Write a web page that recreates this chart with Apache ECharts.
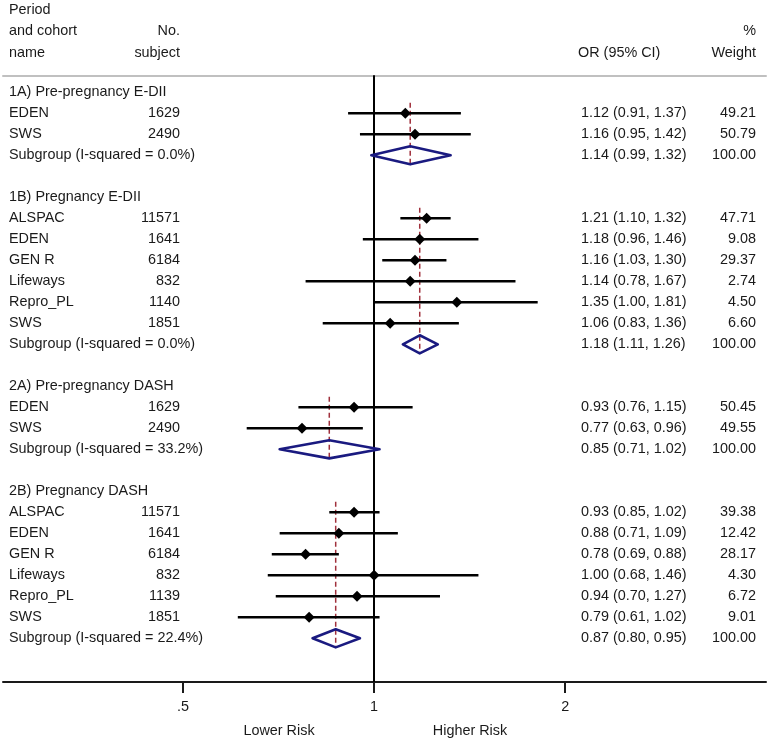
<!DOCTYPE html>
<html><head><meta charset="utf-8">
<script src="https://cdn.jsdelivr.net/npm/echarts@6/dist/echarts.min.js"></script>
<style>html,body{margin:0;padding:0;background:#fff}#c{width:770px;height:742px}</style>
</head><body><div id="c"></div>
<script>
// ---- data ----
const rowLabels = [
  '1A) Pre-pregnancy E-DII', 'EDEN', 'SWS', 'Subgroup (I-squared = 0.0%)', '',
  '1B) Pregnancy E-DII', 'ALSPAC', 'EDEN', 'GEN R', 'Lifeways', 'Repro_PL', 'SWS', 'Subgroup (I-squared = 0.0%)', '',
  '2A) Pre-pregnancy DASH', 'EDEN', 'SWS', 'Subgroup (I-squared = 33.2%)', '',
  '2B) Pregnancy DASH', 'ALSPAC', 'EDEN', 'GEN R', 'Lifeways', 'Repro_PL', 'SWS', 'Subgroup (I-squared = 22.4%)'
];
const rowKind = [
  'head', 'study', 'study', 'sub', 'blank',
  'head', 'study', 'study', 'study', 'study', 'study', 'study', 'sub', 'blank',
  'head', 'study', 'study', 'sub', 'blank',
  'head', 'study', 'study', 'study', 'study', 'study', 'study', 'sub'
];
const rowSubjects = [null, 1629, 2490, null, null,
  null, 11571, 1641, 6184, 832, 1140, 1851, null, null,
  null, 1629, 2490, null, null,
  null, 11571, 1641, 6184, 832, 1139, 1851, null];
const rowOR = [null, 1.12, 1.16, 1.14, null,
  null, 1.21, 1.18, 1.16, 1.14, 1.35, 1.06, 1.18, null,
  null, 0.93, 0.77, 0.85, null,
  null, 0.93, 0.88, 0.78, 1.00, 0.94, 0.79, 0.87];
const rowLower = [null, 0.91, 0.95, 0.99, null,
  null, 1.10, 0.96, 1.03, 0.78, 1.00, 0.83, 1.11, null,
  null, 0.76, 0.63, 0.71, null,
  null, 0.85, 0.71, 0.69, 0.68, 0.70, 0.61, 0.80];
const rowUpper = [null, 1.37, 1.42, 1.32, null,
  null, 1.32, 1.46, 1.30, 1.67, 1.81, 1.36, 1.26, null,
  null, 1.15, 0.96, 1.02, null,
  null, 1.02, 1.09, 0.88, 1.46, 1.27, 1.02, 0.95];
const rowWeight = [null, 49.21, 50.79, 100.00, null,
  null, 47.71, 9.08, 29.37, 2.74, 4.50, 6.60, 100.00, null,
  null, 50.45, 49.55, 100.00, null,
  null, 39.38, 12.42, 28.17, 4.30, 6.72, 9.01, 100.00];
const xTicks = [0.5, 1, 2];
const xTickLabels = ['.5', '1', '2'];
const headerLines = [
  ['Period', '', '', ''],
  ['and cohort', 'No.', '', '%'],
  ['name', 'subject', 'OR (95% CI)', 'Weight']
];

// ---- build series data ----
const FONT = '14.4px "Liberation Sans", Arial, sans-serif';
const TXT = '#1a1a1a';
const studyCI = [], studyPts = [], subDiamonds = [], dashLines = [], textRows = [];
let headRow = 0;
rowKind.forEach((k, i) => {
  if (k === 'head') headRow = i;
  if (k === 'study') {
    studyCI.push([rowLower[i], rowUpper[i], i]);
    studyPts.push([rowOR[i], i]);
  }
  if (k === 'sub') {
    subDiamonds.push([rowLower[i], rowUpper[i], rowOR[i], i]);
    dashLines.push([rowOR[i], headRow + 0.5, i + 0.43]);
  }
  if (k !== 'blank') textRows.push([1, i]);
});

const chart = echarts.init(document.getElementById('c'), null, {renderer: 'canvas'});
const graphics = [];
const hy = [10, 31.5, 53];
headerLines.forEach((l, j) => {
  if (l[0]) graphics.push({type: 'text', x: 9, y: hy[j], style: {text: l[0], font: FONT, fill: TXT, align: 'left', verticalAlign: 'middle'}});
  if (l[1]) graphics.push({type: 'text', x: 180, y: hy[j], style: {text: l[1], font: FONT, fill: TXT, align: 'right', verticalAlign: 'middle'}});
  if (l[2]) graphics.push({type: 'text', x: 578, y: hy[j], style: {text: l[2], font: FONT, fill: TXT, align: 'left', verticalAlign: 'middle'}});
  if (l[3]) graphics.push({type: 'text', x: 756, y: hy[j], style: {text: l[3], font: FONT, fill: TXT, align: 'right', verticalAlign: 'middle'}});
});
graphics.push({type: 'text', x: 279, y: 731, style: {text: 'Lower Risk', font: FONT, fill: TXT, align: 'center', verticalAlign: 'middle'}});
graphics.push({type: 'text', x: 470, y: 731, style: {text: 'Higher Risk', font: FONT, fill: TXT, align: 'center', verticalAlign: 'middle'}});

const xMin = 0.2603, xMax = 4.143;
chart.setOption({
  animation: false,
  backgroundColor: '#fff',
  grid: {left: 3, right: 4, top: 75.3, bottom: 60, containLabel: false},
  graphic: graphics,
  xAxis: [{
    type: 'log', logBase: 2, min: xMin, max: xMax, position: 'bottom',
    axisLine: {show: true, onZero: false, lineStyle: {color: '#1a1a1a', width: 2}},
    axisTick: {show: true, customValues: xTicks, length: 11, lineStyle: {color: '#1a1a1a', width: 2}},
    axisLabel: {show: true, customValues: xTicks, margin: 18, fontSize: 14.4, color: TXT,
      fontFamily: '"Liberation Sans", Arial, sans-serif',
      formatter: v => { const k = xTicks.findIndex(t => Math.abs(t - v) < 1e-6); return k >= 0 ? xTickLabels[k] : ''; }},
    splitLine: {show: false}, minorTick: {show: false}
  }, {
    type: 'log', logBase: 2, min: xMin, max: xMax, position: 'top',
    axisLine: {show: true, onZero: false, lineStyle: {color: '#c0c0c0', width: 2}},
    axisTick: {show: false}, axisLabel: {show: false}, splitLine: {show: false}
  }],
  yAxis: {type: 'value', inverse: true, min: -0.81, max: 28.08, show: false},
  series: [
    {
      type: 'custom', name: 'pooled', data: dashLines, clip: false, z: 2,
      encode: {x: 0, y: [1, 2]},
      renderItem: (p, api) => {
        const a = api.coord([api.value(0), api.value(1)]);
        const b = api.coord([api.value(0), api.value(2)]);
        return {type: 'line', shape: {x1: a[0], y1: a[1], x2: b[0], y2: b[1]},
          style: {stroke: '#a0303c', lineWidth: 1.5, lineDash: [5, 3]}};
      }
    },
    {
      type: 'custom', name: 'ci', data: studyCI, clip: false, z: 3,
      encode: {x: [0, 1], y: 2},
      renderItem: (p, api) => {
        const a = api.coord([api.value(0), api.value(2)]);
        const b = api.coord([api.value(1), api.value(2)]);
        return {type: 'line', shape: {x1: a[0], y1: a[1], x2: b[0], y2: b[1]},
          style: {stroke: '#000', lineWidth: 2.6}};
      }
    },
    {
      type: 'scatter', name: 'or', data: studyPts, symbol: 'diamond', symbolSize: 11, z: 4,
      itemStyle: {color: '#000', opacity: 1},
      markLine: {symbol: 'none', silent: true, label: {show: false},
        lineStyle: {color: '#000', width: 2, type: 'solid'}, data: [{xAxis: 1}]}
    },
    {
      type: 'custom', name: 'subgroup', data: subDiamonds, clip: false, z: 5,
      encode: {x: [0, 1, 2], y: 3},
      renderItem: (p, api) => {
        const r = api.value(3);
        const L = api.coord([api.value(0), r]);
        const T = api.coord([api.value(2), r - 0.43]);
        const R = api.coord([api.value(1), r]);
        const B = api.coord([api.value(2), r + 0.43]);
        return {type: 'polygon', shape: {points: [L, T, R, B]},
          style: {stroke: '#1a1a80', lineWidth: 2.6, lineJoin: 'round', fill: 'rgba(0,0,0,0)'}};
      }
    },
    {
      type: 'custom', name: 'text', data: textRows, clip: false, z: 6, silent: true,
      encode: {x: 0, y: 1},
      renderItem: (p, api) => {
        const i = api.value(1);
        const y = api.coord([1, i])[1];
        const ch = [{type: 'text', x: 9, y: y, style: {text: rowLabels[i], font: FONT, fill: TXT, align: 'left', verticalAlign: 'middle'}}];
        if (rowSubjects[i] != null) ch.push({type: 'text', x: 180, y: y, style: {text: String(rowSubjects[i]), font: FONT, fill: TXT, align: 'right', verticalAlign: 'middle'}});
        if (rowOR[i] != null) ch.push({type: 'text', x: 581, y: y, style: {text: rowOR[i].toFixed(2) + ' (' + rowLower[i].toFixed(2) + ', ' + rowUpper[i].toFixed(2) + ')', font: FONT, fill: TXT, align: 'left', verticalAlign: 'middle'}});
        if (rowWeight[i] != null) ch.push({type: 'text', x: 756, y: y, style: {text: rowWeight[i].toFixed(2), font: FONT, fill: TXT, align: 'right', verticalAlign: 'middle'}});
        return {type: 'group', children: ch};
      }
    }
  ]
});
</script></body></html>
